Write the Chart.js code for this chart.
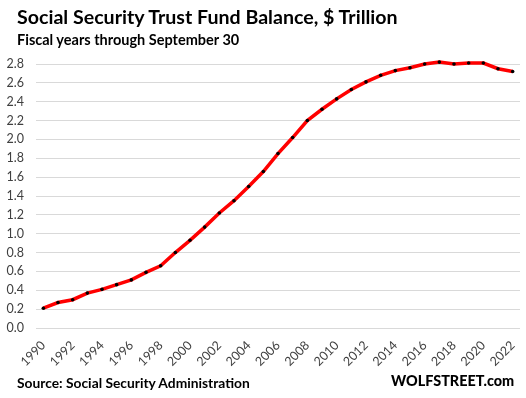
<!DOCTYPE html>
<html>
<head>
<meta charset="utf-8">
<script src="https://cdn.jsdelivr.net/npm/chart.js@4.4.0/dist/chart.umd.min.js"></script>
<style>
  html, body { margin: 0; padding: 0; background: #fff; }
  #wrap { position: relative; width: 526px; height: 398px; font-family: Lato, "Open Sans", sans-serif; }
  #chart { position: absolute; left: 0; top: 0; }
  .txt { position: absolute; color: #000; font-weight: bold; white-space: nowrap; }
  #title { left: 17px; top: 5px; font-size: 19.6px; }
  #subtitle { left: 17px; top: 31px; font-size: 14.5px; }
  #source { left: 17px; top: 374px; font-size: 13.8px; }
  #brand { left: 391px; top: 372px; font-size: 14.4px; font-weight: 900; }
</style>
</head>
<body>
<div id="wrap">
  <canvas id="chart" width="526" height="398"></canvas>
  <div class="txt" id="title">Social Security Trust Fund Balance, $ Trillion</div>
  <div class="txt" id="subtitle">Fiscal years through September 30</div>
  <div class="txt" id="source">Source: Social Security Administration</div>
  <div class="txt" id="brand">WOLFSTREET.com</div>
</div>
<script>
// fiscal years
const years = [];
for (let y = 1990; y <= 2022; y++) years.push(String(y));

// balance, $ trillion
const balance = [
  0.21, 0.27, 0.30, 0.37, 0.41, 0.46, 0.51, 0.59, 0.66, 0.80,
  0.93, 1.07, 1.22, 1.35, 1.50, 1.66, 1.85, 2.02, 2.20, 2.32,
  2.43, 2.53, 2.61, 2.68, 2.73, 2.76, 2.80, 2.82, 2.80, 2.81,
  2.81, 2.75, 2.72
];

const yTicks = [0, 0.2, 0.4, 0.6, 0.8, 1.0, 1.2, 1.4, 1.6, 1.8, 2.0, 2.2, 2.4, 2.6, 2.8];

const ctx = document.getElementById('chart').getContext('2d');
new Chart(ctx, {
  type: 'line',
  data: {
    labels: years,
    datasets: [{
      data: balance,
      borderColor: '#ff0000',
      borderWidth: 3.5,
      pointRadius: 1.8,
      pointBackgroundColor: '#000',
      pointBorderWidth: 0,
      tension: 0,
      clip: false
    }]
  },
  options: {
    responsive: false,
    animation: false,
    layout: { padding: { top: 64, right: 6, bottom: 30, left: 0 } },
    plugins: {
      legend: { display: false },
      tooltip: { enabled: false }
    },
    scales: {
      x: {
        offset: true,
        grid: { display: false },
        border: { display: false },
        afterFit: (s) => { s.height = 40; },
        ticks: {
          autoSkip: false,
          minRotation: 45,
          maxRotation: 45,
          padding: 2,
          color: '#404040',
          font: { family: 'Lato', size: 12.5 },
          callback: function(v, i) { return i % 2 === 0 ? years[i] : ''; }
        }
      },
      y: {
        min: 0,
        max: 2.8,
        afterFit: (s) => { s.width = 36; },
        afterBuildTicks: (s) => { s.ticks = yTicks.map(v => ({ value: v })); },
        grid: { color: '#d9d9d9', drawTicks: false },
        border: { display: false },
        ticks: {
          padding: 12,
          color: '#404040',
          font: { family: 'Lato', size: 12.5 },
          callback: (v) => v.toFixed(1)
        }
      }
    }
  }
});
</script>
</body>
</html>
